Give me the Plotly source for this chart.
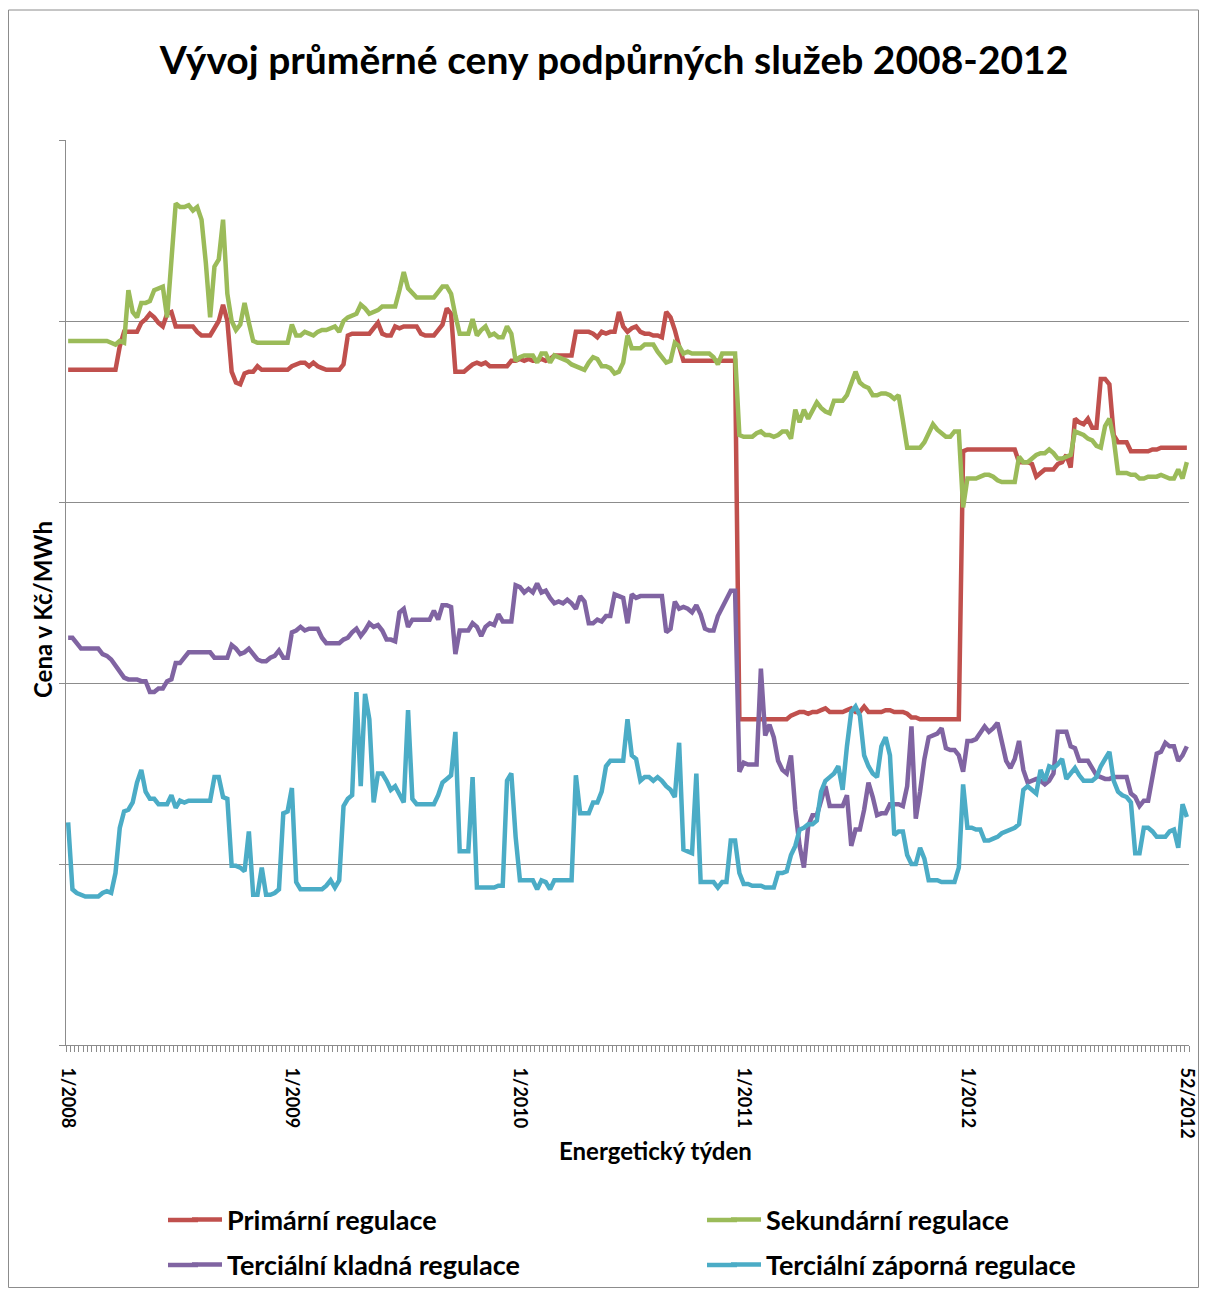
import plotly.graph_objects as go

# ---- data (weekly averages; units arbitrary, 5 grid steps) ----
week_labels = ["1/2008", "1/2009", "1/2010", "1/2011", "1/2012", "52/2012"]
week_label_pos = [0, 52, 105, 157, 209, 260]

primarni = [
    373, 373, 373, 373, 373, 373, 373, 373, 373, 373,
    373, 373, 386, 394, 394, 394, 394, 399, 401, 404,
    402, 399, 397, 404, 405, 397, 397, 397, 397, 397,
    394, 392, 392, 392, 396, 400, 409, 400, 372, 366,
    365, 371, 372, 372, 375, 373, 373, 373, 373, 373,
    373, 373, 375, 376, 377, 377, 375, 377, 375, 374,
    373, 373, 373, 373, 376, 392, 393, 393, 393, 393,
    393, 396, 399, 393, 392, 392, 397, 396, 397, 397,
    397, 397, 393, 392, 392, 392, 395, 398, 407, 404,
    372, 372, 372, 374, 376, 377, 376, 377, 375, 375,
    375, 375, 375, 378, 378, 379, 378, 379, 378, 378,
    379, 378, 379, 381, 381, 381, 381, 381, 394, 394,
    394, 394, 393, 391, 394, 393, 394, 394, 405, 397,
    394, 396, 397, 394, 393, 393, 392, 392, 391, 405,
    402, 395, 386, 378, 378, 378, 378, 378, 378, 378,
    378, 378, 378, 378, 378, 378, 180, 180, 180, 180,
    180, 180, 180, 180, 180, 180, 180, 180, 182, 183,
    184, 184, 183, 184, 184, 185, 186, 184, 184, 184,
    184, 185, 186, 184, 184, 187, 184, 184, 184, 184,
    185, 185, 184, 184, 184, 183, 181, 181, 180, 180,
    180, 180, 180, 180, 180, 180, 180, 180, 328, 329,
    329, 329, 329, 329, 329, 329, 329, 329, 329, 329,
    329, 322, 322, 322, 321, 314, 316, 318, 318, 318,
    321, 322, 326, 319, 346, 344, 343, 346, 341, 341,
    368, 368, 365, 337, 333, 333, 333, 328, 328, 328,
    328, 328, 329, 329, 330, 330, 330, 330, 330, 330,
    330,
]

sekundarni = [
    389, 389, 389, 389, 389, 389, 389, 389, 389, 389,
    388, 387, 389, 388, 417, 405, 402, 410, 410, 411,
    417, 418, 419, 402, 430, 465, 463, 463, 464, 461,
    463, 456, 432, 402, 430, 434, 456, 415, 400, 395,
    398, 410, 399, 389, 388, 388, 388, 388, 388, 388,
    388, 388, 398, 392, 392, 394, 393, 392, 394, 395,
    395, 396, 397, 394, 400, 402, 403, 404, 409, 407,
    404, 405, 406, 408, 408, 408, 408, 417, 427, 418,
    415, 413, 413, 413, 413, 413, 416, 419, 419, 415,
    403, 393, 393, 393, 401, 392, 395, 397, 392, 393,
    391, 391, 397, 393, 378, 380, 381, 381, 381, 377,
    382, 382, 377, 381, 380, 379, 378, 376, 375, 374,
    373, 377, 380, 379, 375, 375, 374, 371, 372, 377,
    392, 385, 385, 385, 387, 387, 387, 383, 380, 377,
    378, 388, 386, 382, 383, 382, 382, 382, 382, 382,
    380, 376, 382, 382, 382, 382, 337, 336, 336, 336,
    338, 339, 337, 337, 336, 337, 339, 339, 335, 351,
    344, 351, 346, 351, 355, 352, 350, 349, 356, 356,
    356, 359, 365, 372, 366, 364, 363, 359, 359, 360,
    360, 359, 357, 359, 345, 330, 330, 330, 330, 333,
    338, 343, 340, 338, 336, 336, 339, 339, 297, 313,
    313, 313, 314, 315, 315, 314, 312, 311, 311, 311,
    311, 325, 322, 322, 324, 326, 327, 327, 329, 327,
    324, 324, 325, 326, 339, 338, 337, 335, 334, 331,
    330, 342, 346, 335, 316, 316, 316, 315, 315, 313,
    313, 314, 314, 314, 315, 314, 313, 313, 318, 313,
    322,
]

terc_kladna = [
    225, 225, 222, 219, 219, 219, 219, 219, 216, 215,
    213, 210, 206, 203, 202, 202, 202, 201, 201, 195,
    195, 197, 197, 201, 202, 211, 211, 214, 217, 217,
    217, 217, 217, 217, 214, 214, 214, 214, 221, 219,
    216, 217, 219, 216, 213, 212, 212, 214, 215, 218,
    214, 214, 228, 229, 231, 229, 230, 230, 230, 225,
    222, 222, 222, 222, 224, 225, 228, 230, 226, 229,
    233, 231, 232, 229, 224, 224, 223, 239, 241, 231,
    235, 235, 235, 235, 235, 240, 235, 243, 243, 242,
    216, 229, 229, 229, 233, 231, 226, 231, 233, 232,
    238, 234, 234, 234, 254, 253, 250, 252, 250, 255,
    250, 251, 247, 244, 245, 244, 246, 244, 241, 248,
    245, 233, 233, 235, 234, 237, 237, 249, 248, 247,
    233, 249, 247, 248, 248, 248, 248, 248, 248, 228,
    230, 245, 241, 242, 241, 239, 243, 238, 230, 229,
    229, 237, 242, 246, 251, 251, 151, 156, 155, 155,
    155, 208, 171, 177, 170, 157, 152, 150, 160, 130,
    110, 98, 121, 127, 127, 135, 143, 132, 132, 132,
    132, 138, 110, 119, 119, 130, 145, 137, 127, 128,
    128, 133, 133, 133, 132, 143, 176, 125, 140, 158,
    170, 171, 172, 175, 164, 163, 163, 160, 151, 168,
    168, 169, 172, 176, 173, 175, 178, 168, 157, 153,
    158, 168, 152, 145, 146, 147, 146, 144, 146, 150,
    173, 173, 173, 165, 164, 157, 157, 157, 153, 149,
    148, 147, 147, 148, 148, 148, 148, 139, 137, 132,
    135, 135, 148, 161, 162, 167, 165, 165, 157, 160,
    165,
]

terc_zaporna = [
    123, 86, 84, 83, 82, 82, 82, 82, 84, 85,
    84, 95, 120, 129, 130, 134, 145, 152, 140, 136,
    136, 133, 133, 133, 138, 131, 135, 134, 135, 135,
    135, 135, 135, 135, 148, 148, 137, 136, 99, 99,
    98, 96, 118, 83, 83, 98, 83, 83, 84, 86,
    128, 129, 142, 90, 86, 86, 86, 86, 86, 86,
    88, 91, 87, 91, 132, 136, 138, 195, 143, 194,
    180, 134, 150, 150, 146, 141, 143, 139, 134, 185,
    136, 133, 133, 133, 133, 133, 138, 145, 147, 149,
    173, 107, 107, 107, 148, 87, 87, 87, 87, 87,
    88, 88, 146, 150, 115, 91, 91, 91, 91, 86,
    91, 90, 86, 91, 91, 91, 91, 91, 149, 128,
    128, 128, 134, 134, 140, 154, 157, 157, 157, 157,
    180, 160, 158, 146, 148, 148, 146, 148, 146, 143,
    141, 137, 167, 108, 107, 106, 150, 90, 90, 90,
    90, 87, 90, 90, 113, 113, 95, 89, 89, 88,
    88, 88, 87, 87, 87, 95, 95, 96, 105, 110,
    119, 120, 122, 122, 124, 140, 146, 148, 150, 154,
    141, 165, 184, 187, 182, 160, 154, 150, 148, 165,
    170, 160, 116, 118, 118, 105, 100, 100, 109, 103,
    91, 91, 91, 90, 90, 90, 90, 98, 144, 120,
    120, 119, 119, 113, 113, 114, 115, 117, 118, 119,
    120, 122, 141, 143, 141, 139, 152, 146, 154, 153,
    155, 158, 147, 150, 153, 149, 146, 146, 146, 148,
    154, 158, 162, 146, 140, 138, 137, 134, 106, 106,
    120, 120, 118, 115, 115, 115, 118, 119, 109, 133,
    126,
]

series = [
    ("Primární regulace", primarni, "#C0504D"),
    ("Sekundární regulace", sekundarni, "#9BBB59"),
    ("Terciální kladná regulace", terc_kladna, "#8064A2"),
    ("Terciální záporná regulace", terc_zaporna, "#4BACC6"),
]

FONT = "Lato"
OFF = 8                      # page body margin of the browser
VIS_R = 1200                 # right edge of the visible page area
W, H = VIS_R - OFF, 1297 - 2 * OFF
PL, PR, PT, PB = 66, 1189, 140, 1045   # plot area in screenshot pixels
L, R, T, B = PL - OFF, W - (PR - OFF), PT - OFF, H - (PB - OFF)
LINE_W = 4.5

def px(xs):
    return (xs - PL) / (PR - PL)

def py(ys):
    return (PB - ys) / (PB - PT)

# legend slots: (text-start x, row centre y) in screenshot pixels
legend_slots = [(228, 1220), (767, 1220), (228, 1265), (767, 1265)]
legend_names = ["legend", "legend2", "legend3", "legend4"]

fig = go.Figure()
for (name, vals, color), lg in zip(series, legend_names):
    fig.add_trace(go.Scatter(
        x=list(range(len(vals))), y=vals, mode="lines", name=name,
        line=dict(color=color, width=LINE_W), legend=lg, showlegend=True,
    ))

legend_layout = {}
legend_shapes = []
for (name, vals, color), lg, (tx, ty) in zip(series, legend_names, legend_slots):
    legend_layout[lg] = dict(
        xref="container", yref="container",
        x=(tx - 41 - OFF) / W, y=1 - (ty - OFF) / H,
        xanchor="left", yanchor="middle", orientation="h", visible=True,
        font=dict(family=FONT, size=27, color="black", weight="bold"),
        bgcolor="rgba(0,0,0,0)",
    )
    # lengthen the legend key line to the reference's longer sample
    legend_shapes.append(dict(
        type="line", xref="paper", yref="paper",
        x0=px(tx - 60), x1=px(tx - 30), y0=py(ty), y1=py(ty),
        line=dict(color=color, width=LINE_W),
    ))

fig.update_layout(
    width=W, height=H, showlegend=True,
    margin=dict(l=L, r=R, t=T, b=B, autoexpand=False),
    paper_bgcolor="white", plot_bgcolor="white",
    title=dict(text="<b>Vývoj průměrné ceny podpůrných služeb 2008-2012</b>",
               font=dict(family=FONT, size=39, color="black"),
               x=(614 - OFF) / W, xref="container", xanchor="center",
               y=1 - (60 - OFF) / H, yref="container", yanchor="middle"),
    xaxis=dict(
        range=[-0.5, 260.5], tickmode="array", tickvals=week_label_pos,
        ticktext=["<b>%s</b>" % t for t in week_labels], tickangle=90,
        tickfont=dict(family=FONT, size=18, color="black"),
        ticks="", showgrid=False, zeroline=False, automargin=False,
        ticklabeloverflow="allow",
        showline=True, linecolor="#8c8c8c", linewidth=1,
        minor=dict(ticks="outside", tick0=-0.5, dtick=1, ticklen=6,
                   tickcolor="#8c8c8c", tickwidth=1, showgrid=False),
        ticklabelstandoff=18,
    ),
    yaxis=dict(
        range=[0, 500], dtick=100, tick0=0, showticklabels=False,
        ticks="outside", ticklen=6, tickcolor="#8c8c8c", automargin=False,
        showgrid=True, gridcolor="#8c8c8c", gridwidth=1,
        zeroline=False, showline=True, linecolor="#8c8c8c", linewidth=1,
    ),
    annotations=[
        dict(text="<b>Energetický týden</b>", xref="paper", yref="paper",
             x=px(655), y=py(1150), xanchor="center", yanchor="middle",
             showarrow=False, font=dict(family=FONT, size=24, color="black")),
        dict(text="<b>Cena v Kč/MWh</b>", xref="paper", yref="paper",
             x=px(42), y=py(610), xanchor="center", yanchor="middle",
             showarrow=False, textangle=-90,
             font=dict(family=FONT, size=24, color="black")),
    ],
    shapes=[
        dict(type="rect", xref="paper", yref="paper",
             x0=px(8.5), x1=px(VIS_R - 1.5), y0=py(OFF + H - 1.5), y1=py(10),
             line=dict(color="#8c8c8c", width=1), fillcolor="rgba(0,0,0,0)",
             layer="below"),
    ] + legend_shapes,
    **legend_layout,
)

fig.write_html("out.html")
